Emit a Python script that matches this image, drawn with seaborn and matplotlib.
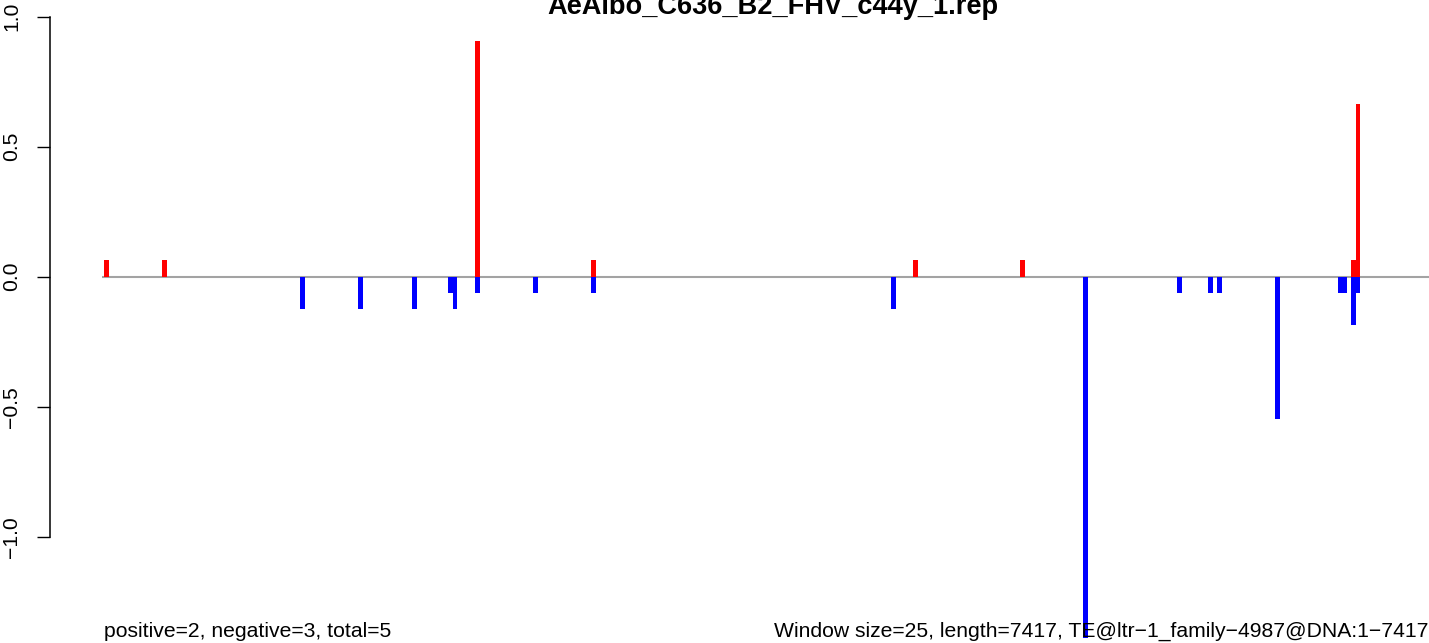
import matplotlib
matplotlib.use("Agg")
import matplotlib.pyplot as plt
import seaborn as sns
import pandas as pd

# ---- data (window start positions in nt, window size 25) ----
title = "AeAlbo_C636_B2_FHV_c44y_1.rep"
pos_positions = [11, 326, 2025, 2655, 4404, 4985, 6782, 6807]
pos_values = [0.0625, 0.0625, 0.906, 0.0625, 0.0625, 0.0625, 0.0625, 0.665]
neg_positions = [1075, 1390, 1683, 1879, 1904, 2025, 2340, 2655, 4284, 5327,
                 5837, 6006, 6054, 6369, 6711, 6736, 6782, 6807]
neg_values = [-0.125, -0.125, -0.125, -0.0625, -0.125, -0.0625, -0.0625, -0.0625,
              -0.125, -1.39, -0.0625, -0.0625, -0.0625, -0.547, -0.0625, -0.0625,
              -0.1875, -0.0625]
y_ticks = [-1.0, -0.5, 0.0, 0.5, 1.0]
y_tick_labels = ["\u22121.0", "\u22120.5", "0.0", "0.5", "1.0"]
window_size = 25
seq_length = 7417
left_note = "positive=2, negative=3, total=5"
right_note = ("Window size=25, length=7417, TE@ltr\u22121_family\u22124987@DNA:1\u22127417")

pos_df = pd.DataFrame({"position": pos_positions, "value": pos_values})
neg_df = pd.DataFrame({"position": neg_positions, "value": neg_values})

sns.set_theme(style="white")
plt.rcParams["font.family"] = ["Liberation Sans", "DejaVu Sans"]

W, H = 1429, 643
fig = plt.figure(figsize=(W / 100, H / 100), dpi=100)
fig.patch.set_facecolor("white")

# axes spans from spine at x=50px to right edge, full height
ax_left_px = 50
ax = fig.add_axes([ax_left_px / W, 0, 1 - ax_left_px / W, 1])
ax.set_facecolor("white")

nt_per_px = 5.43
x0_px = 102  # pixel of nt 0
ax.set_xlim((ax_left_px - x0_px) * nt_per_px, (W - x0_px) * nt_per_px)
# y mapping: y=0 at 276.7px from top, 260px per unit
ax.set_ylim((276.7 - H) / 260.0, 276.7 / 260.0)

# baseline
ax.hlines(0, 0, seq_length, colors="#A3A3A3", linewidth=1.5, zorder=1)

ax.bar(pos_df["position"], pos_df["value"], width=window_size, align="edge",
       color="#FF0000", linewidth=0, zorder=2)
ax.bar(neg_df["position"], neg_df["value"], width=window_size, align="edge",
       color="#0000FF", linewidth=0, zorder=2)

for s in ["top", "right", "bottom"]:
    ax.spines[s].set_visible(False)
ax.spines["left"].set_bounds(-1.0, 1.0)
ax.spines["left"].set_color("black")
ax.spines["left"].set_linewidth(1.1)
ax.set_xticks([])
ax.set_yticks(y_ticks)
ax.set_yticklabels(y_tick_labels, rotation=90, va="center", fontsize=15.2)
ax.tick_params(axis="y", direction="out", length=9.4, width=1.0, color="black",
               pad=11.5, left=True, labelcolor="black")
ax.grid(False)

fig.text(773 / W, 1 - 14 / H, title, ha="center", va="baseline",
         fontsize=19.6, fontweight="bold", color="black")
fig.text(104 / W, 1 - 637 / H, left_note, ha="left", va="baseline",
         fontsize=15.2, color="black")
fig.text(1428 / W, 1 - 637 / H, right_note, ha="right", va="baseline",
         fontsize=15.2, color="black")

fig.savefig("out.png", dpi=100, facecolor="white")
